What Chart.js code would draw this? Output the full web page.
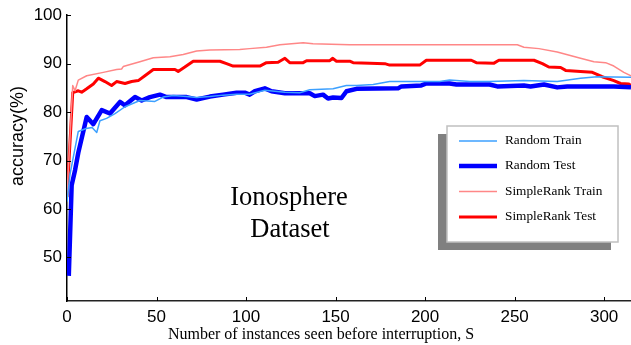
<!DOCTYPE html>
<html>
<head>
<meta charset="utf-8">
<title>Ionosphere Dataset</title>
<script src="https://cdn.jsdelivr.net/npm/chart.js@4.4.1/dist/chart.umd.min.js"></script>
<style>
  html, body { margin: 0; padding: 0; background: #fff; }
  #wrap { width: 631px; height: 345px; }
</style>
</head>
<body>
<div id="wrap"><canvas id="accChart" width="631" height="345"></canvas></div>
<script>
// Values (S = instances seen, acc in %)
const seriesNames = ['Random Train', 'Random Test', 'SimpleRank Train', 'SimpleRank Test'];

const randTrainS = [0, 1.7, 6.3, 10.7, 14, 16.6, 18.4, 22.1, 26.8, 32.4, 40.7, 49.1, 53.7, 59.3, 66.8, 72.4, 79.8, 87.2, 94.7, 102, 110.5, 121.7, 130, 135.6, 148.6, 156, 161.7, 171, 180.2, 193.3, 208.1, 213.7, 224.9, 236, 255.2, 273.8, 286.8, 296.1, 315];
const randTrainAcc = [61.5, 67.2, 76.0, 76.6, 76.8, 75.8, 78.2, 78.7, 79.7, 81.1, 82.4, 82.2, 83.1, 83.4, 83.2, 83.0, 83.2, 83.5, 83.7, 83.7, 84.5, 84.1, 84.0, 84.6, 84.8, 85.5, 85.5, 85.7, 86.3, 86.3, 86.3, 86.6, 86.3, 86.3, 86.5, 86.3, 87.0, 87.3, 87.2];

const randTestS = [1, 2.6, 4.5, 6.3, 11, 14.7, 19.4, 24, 29.6, 32.4, 38, 41.7, 46.3, 51.9, 55.6, 66.8, 72.4, 79.8, 87.2, 94.7, 99.3, 102, 104.9, 110.5, 114.2, 121.7, 135.6, 138.4, 143, 145.8, 148.6, 153.3, 156.1, 161.7, 184.9, 186.8, 197.9, 200.7, 213.7, 217.5, 236, 240.3, 255.2, 258.9, 266.4, 273.8, 279.4, 305.4, 315];
const randTestAcc = [46.2, 64.9, 68.0, 71.6, 79.0, 77.5, 80.4, 79.7, 82.1, 81.4, 83.1, 82.4, 83.1, 83.6, 83.1, 83.1, 82.6, 83.2, 83.6, 84.0, 84.0, 83.6, 84.3, 84.9, 84.3, 83.9, 83.9, 83.3, 83.6, 82.8, 83.0, 82.9, 84.3, 84.8, 84.9, 85.3, 85.5, 85.9, 85.9, 85.7, 85.7, 85.3, 85.5, 85.3, 85.7, 85.1, 85.3, 85.3, 85.1];

const rankTrainS = [0, 3.2, 4.5, 6.3, 11, 20.3, 27.7, 30.5, 31.4, 40.7, 48.2, 57.5, 64.9, 72.4, 79.8, 96.5, 102, 111.4, 118.9, 131.9, 137.4, 157.9, 251.5, 255.2, 263.6, 273.8, 286.8, 294.3, 300.8, 305.4, 311, 315];
const rankTrainAcc = [63, 85.5, 84.4, 86.6, 87.5, 88.2, 88.8, 88.9, 89.4, 90.4, 91.2, 91.4, 91.9, 92.6, 92.8, 92.9, 93.1, 93.4, 93.9, 94.3, 94.1, 93.9, 93.9, 93.4, 93.1, 92.4, 91.1, 90.4, 90.2, 89.5, 88.2, 87.5];

const rankTestS = [0, 3.2, 6.3, 8.2, 11, 14.7, 17.5, 21.2, 24.9, 27.7, 32.4, 36.1, 39.8, 43.5, 48.2, 60.3, 62.1, 65.8, 70.5, 85.4, 89.1, 92.8, 107.7, 111.4, 117.9, 121.7, 124.4, 131.9, 133.8, 146.8, 148.3, 150.5, 157.9, 159.8, 169.1, 177.5, 180.2, 197, 200.7, 225.8, 228.6, 238.5, 241.2, 260.8, 265.5, 269.1, 275.7, 278.5, 286.8, 293.4, 298.9, 305.4, 309.2, 313.8, 315];
const rankTestAcc = [62.5, 84.0, 84.4, 84.1, 84.8, 85.8, 87.0, 86.3, 85.5, 86.3, 85.9, 86.3, 86.5, 87.5, 88.8, 88.8, 88.4, 89.3, 90.5, 90.5, 90.0, 89.5, 89.5, 90.2, 90.3, 91.1, 90.2, 90.2, 90.6, 90.6, 91.1, 90.5, 90.5, 90.2, 90.1, 90.0, 89.7, 89.7, 90.7, 90.7, 90.2, 90.1, 90.7, 90.7, 90.0, 89.3, 89.2, 88.6, 88.4, 88.2, 87.3, 86.5, 85.9, 85.8, 85.5];

const xTicks = [0, 50, 100, 150, 200, 250, 300];
const yTicks = [50, 60, 70, 80, 90, 100];

const xTitle = 'Number of instances seen before interruption, S';
const yTitle = 'accuracy(%)';
const noteLines = ['Ionosphere', 'Dataset'];

function toPoints(xs, ys) {
  return xs.map((x, i) => ({ x: x, y: ys[i] }));
}

const colors = {
  randTrain: 'rgb(60, 160, 255)',
  randTest: '#0000ff',
  rankTrain: 'rgb(255, 135, 135)',
  rankTest: '#ff0000'
};

const lineWidths = [1.5, 4.5, 1.5, 3];
const lineColors = [colors.randTrain, colors.randTest, colors.rankTrain, colors.rankTest];

// Inward tick marks, titles, annotation and the boxed legend
const decorPlugin = {
  id: 'decor',
  afterDraw(chart) {
    const ctx = chart.ctx;
    const area = chart.chartArea;
    const xs = chart.scales.x;
    const ys = chart.scales.y;
    ctx.save();

    // tick marks pointing into the plot
    ctx.strokeStyle = '#000';
    ctx.lineWidth = 1;
    xTicks.forEach(v => {
      const px = Math.round(xs.getPixelForValue(v)) + 0.5;
      ctx.beginPath();
      ctx.moveTo(px, area.bottom);
      ctx.lineTo(px, area.bottom - 4);
      ctx.stroke();
    });
    yTicks.forEach(v => {
      const py = Math.round(ys.getPixelForValue(v)) + 0.5;
      ctx.beginPath();
      ctx.moveTo(area.left, py);
      ctx.lineTo(area.left + 4, py);
      ctx.stroke();
    });

    // axis titles
    ctx.fillStyle = '#000';
    ctx.font = '16px "Liberation Serif", serif';
    ctx.textAlign = 'center';
    ctx.textBaseline = 'alphabetic';
    ctx.fillText(xTitle, 321, 339);

    ctx.save();
    ctx.translate(23, 136);
    ctx.rotate(-Math.PI / 2);
    ctx.font = '18px "Liberation Sans", Arial, sans-serif';
    ctx.fillText(yTitle, 0, 0);
    ctx.restore();

    // dataset note
    ctx.font = '26.5px "Liberation Serif", serif';
    ctx.fillText(noteLines[0], 289, 205);
    ctx.fillText(noteLines[1], 290, 237);

    // legend: shadow, box, entries
    ctx.fillStyle = '#808080';
    ctx.fillRect(438, 134, 173, 116);
    ctx.fillStyle = '#fff';
    ctx.fillRect(447, 126, 171, 116);
    ctx.strokeStyle = '#c0c0c0';
    ctx.lineWidth = 1.5;
    ctx.strokeRect(447, 126, 171, 116);

    const rowY = [141, 166, 191.5, 217];
    ctx.font = '13.3px "Liberation Serif", serif';
    ctx.textAlign = 'left';
    ctx.textBaseline = 'middle';
    seriesNames.forEach((name, i) => {
      ctx.strokeStyle = lineColors[i];
      ctx.lineWidth = lineWidths[i];
      ctx.beginPath();
      ctx.moveTo(459, rowY[i]);
      ctx.lineTo(497, rowY[i]);
      ctx.stroke();
      ctx.fillStyle = '#000';
      ctx.fillText(name, 505, rowY[i]);
    });

    ctx.restore();
  }
};

const datasets = [
  toPoints(randTrainS, randTrainAcc),
  toPoints(randTestS, randTestAcc),
  toPoints(rankTrainS, rankTrainAcc),
  toPoints(rankTestS, rankTestAcc)
].map((pts, i) => ({
  label: seriesNames[i],
  data: pts,
  borderColor: lineColors[i],
  backgroundColor: lineColors[i],
  borderWidth: lineWidths[i],
  borderJoinStyle: 'round',
  borderCapStyle: 'butt',
  pointRadius: 0,
  tension: 0,
  fill: false
}));

new Chart(document.getElementById('accChart'), {
  type: 'line',
  data: { datasets: datasets },
  options: {
    responsive: false,
    animation: false,
    devicePixelRatio: 1,
    layout: { padding: { top: 0, right: 0, bottom: 0, left: 0 } },
    plugins: {
      legend: { display: false },
      tooltip: { enabled: false }
    },
    scales: {
      x: {
        type: 'linear',
        min: 0,
        max: 315,
        grid: { display: false, drawTicks: false },
        border: { display: true, color: '#222', width: 1.5 },
        ticks: {
          autoSkip: false,
          maxRotation: 0,
          padding: 6,
          color: '#000',
          font: { family: "'Liberation Sans', Arial, sans-serif", size: 17 }
        },
        afterBuildTicks: scale => { scale.ticks = xTicks.map(v => ({ value: v })); },
        afterFit: scale => { scale.height = 44; }
      },
      y: {
        type: 'linear',
        min: 41,
        max: 100,
        grid: { display: false, drawTicks: false },
        border: { display: true, color: '#000', width: 1.5 },
        ticks: {
          autoSkip: false,
          padding: 5,
          color: '#000',
          font: { family: "'Liberation Sans', Arial, sans-serif", size: 17 }
        },
        afterBuildTicks: scale => { scale.ticks = yTicks.map(v => ({ value: v })); },
        afterFit: scale => { scale.width = 67; }
      }
    }
  },
  plugins: [decorPlugin]
});
</script>
</body>
</html>
